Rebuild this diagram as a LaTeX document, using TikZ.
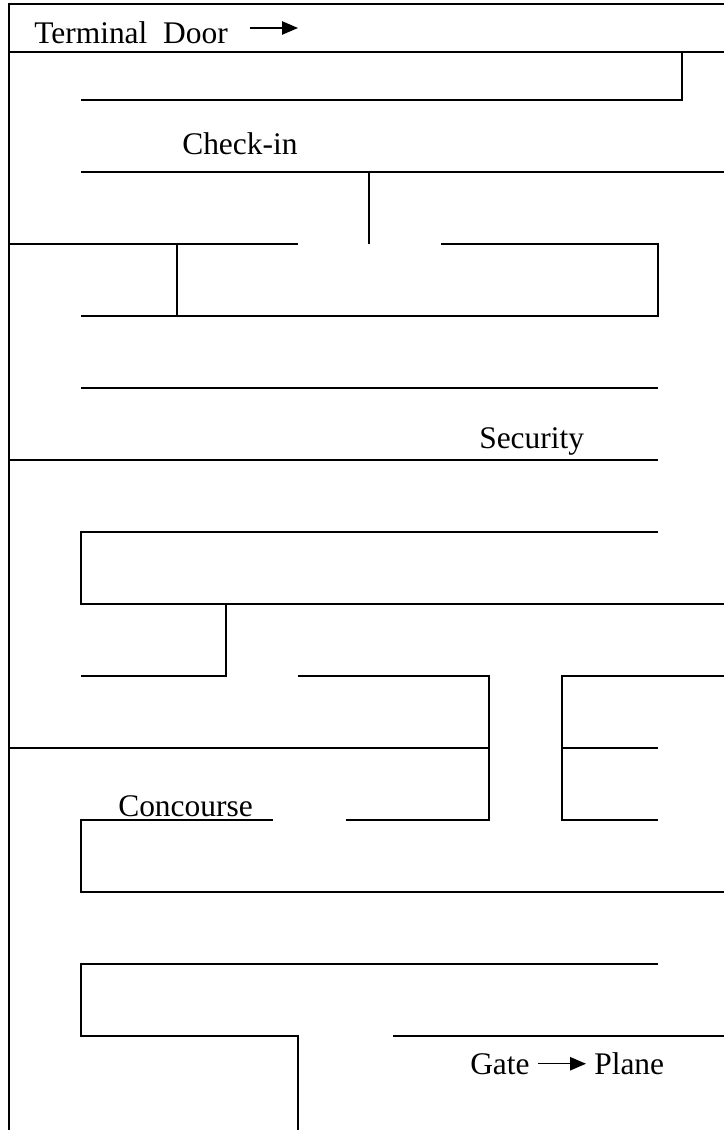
\documentclass[tikz,border=0pt]{standalone}
\usepackage{fontspec}
\setmainfont{Liberation Serif}
\usetikzlibrary{arrows.meta}
\begin{document}
\begin{tikzpicture}[x=0.75pt,y=-0.75pt,
  wall/.style={line width=1.1pt,line join=miter},
  lbl/.style={anchor=base west,inner sep=0pt,font=\fontsize{23.6}{28}\selectfont},
  ptr/.style={line width=1.1pt,-{Triangle[length=12pt,width=10pt]}}]
\useasboundingbox (0,0) rectangle (724,1130);
% walls
\draw[wall] (724,4) -- (9,4) -- (9,1130);
\draw[wall] (9,52) -- (724,52);
\draw[wall] (682,52) -- (682,100) -- (81,100);
\draw[wall] (81,172) -- (724,172);
\draw[wall] (369,172) -- (369,244);
\draw[wall] (9,244) -- (298,244);
\draw[wall] (177,244) -- (177,316);
\draw[wall] (441,244) -- (658,244) -- (658,316) -- (81,316);
\draw[wall] (81,388) -- (658,388);
\draw[wall] (9,460) -- (658,460);
\draw[wall] (658,532) -- (81,532) -- (81,604) -- (724,604);
\draw[wall] (226,604) -- (226,676) -- (81,676);
\draw[wall] (298,676) -- (489,676) -- (489,820) -- (346,820);
\draw[wall] (724,676) -- (562,676) -- (562,820) -- (658,820);
\draw[wall] (9,748) -- (489,748);
\draw[wall] (562,748) -- (658,748);
\draw[wall] (273,820) -- (81,820) -- (81,892) -- (724,892);
\draw[wall] (658,964) -- (81,964) -- (81,1036) -- (298,1036) -- (298,1130);
\draw[wall] (393,1036) -- (724,1036);
% labels
\node[lbl] (door) at (34,44) {Terminal\ \ Door};
\coordinate (da) at (250,28);
\coordinate (db) at (298,28);
\draw[ptr] (da) -- (db);
\node[lbl] (checkin) at (182,155) {Check-in};
\node[lbl] (security) at (479,448) {Security};
\node[lbl] (concourse) at (118,816) {Concourse};
\node[lbl] (gate) at (470,1074) {Gate};
\node[lbl] (plane) at (594,1074) {Plane};
\draw[ptr] (gate.east) ++(6pt,0) coordinate (ga) -- ([xshift=-6pt]plane.west |- ga);
\end{tikzpicture}
\end{document}
